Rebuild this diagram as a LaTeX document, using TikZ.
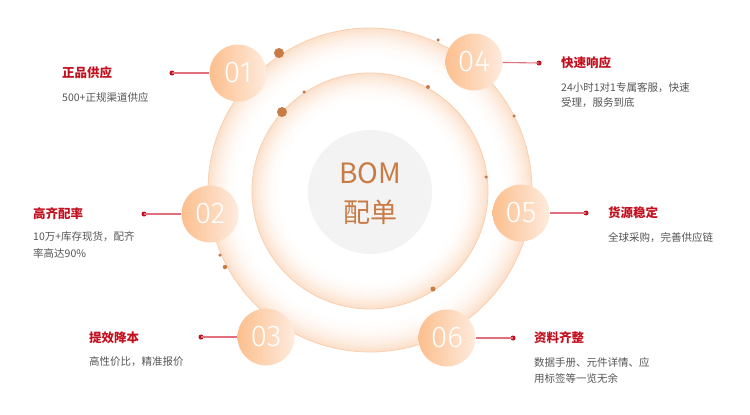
\documentclass[tikz,border=0pt]{standalone}
\usepackage{fontspec}
\setmainfont{Noto Sans CJK SC}
\newfontfamily\numfont{Fira Sans Light}
\definecolor{ringpeach}{HTML}{FCE0CB}
\definecolor{ringline}{HTML}{F8D0B0}
\definecolor{numL}{HTML}{FCBF8E}
\definecolor{numR}{HTML}{FEEBDD}
\definecolor{centergray}{HTML}{F3F3F3}
\definecolor{brown}{HTML}{C97B45}
\definecolor{titlered}{HTML}{C3101E}
\definecolor{linered}{HTML}{E0707C}
\definecolor{subgray}{HTML}{555555}
\tikzset{
  numc/.style={circle, minimum size=57pt, inner sep=0pt, left color=numL, right color=numR, text=white, font=\numfont\fontsize{30}{30}\selectfont},
  reddot/.style={circle, fill=titlered, minimum size=5pt, inner sep=0pt},
  redline/.style={linered, line width=1.1pt},
  ttl/.style={anchor=base west, inner sep=0pt, text=titlered, font=\fontsize{12.5}{14}\selectfont\bfseries},
  sub/.style={anchor=base west, inner sep=0pt, text=subgray, font=\fontsize{10.5}{12}\selectfont},
  bdot/.style={circle, fill=brown, inner sep=0pt},
}
\begin{document}
\begin{tikzpicture}[x=1pt,y=-1pt]
\useasboundingbox (0,0) rectangle (750,415);
% outer disc with fading edge
\foreach \i in {0,...,32} {
  \pgfmathsetmacro{\pc}{100*(1-\i/32)^2}
  \fill[ringpeach!\pc!white] (370,190) circle ({162-\i});
}
\draw[ringline, line width=0.8pt] (370,190) circle (162);
% inner disc with fading edge
\foreach \i in {0,...,30} {
  \pgfmathsetmacro{\pc}{100*(1-\i/30)^2}
  \fill[ringpeach!\pc!white] (370,191) circle ({118-\i});
}
\draw[ringline, line width=0.8pt] (370,191) circle (118);
\node[circle, fill=centergray, minimum size=124pt, inner sep=0pt] (center) at (370,192) {};
\node[text=brown, font=\fontsize{28}{28}\selectfont, inner sep=0pt] (bom) at (370,173) {BOM};
\node[text=brown, font=\fontsize{27}{27}\selectfont, inner sep=0pt] (pd) at (370,212) {配单};
% small brown dots
\node[bdot, minimum size=10pt] (b1) at (279,53) {};
\node[bdot, minimum size=10pt] (b2) at (282,112) {};
\node[bdot, minimum size=3.5pt] (b3) at (438,40) {};
\node[bdot, minimum size=3.5pt] (b4) at (304,92) {};
\node[bdot, minimum size=4pt] (b5) at (428,87) {};
\node[bdot, minimum size=3.5pt] (b6) at (514,116) {};
\node[bdot, minimum size=3.5pt] (b7) at (486,177) {};
\node[bdot, minimum size=3.5pt] (b8) at (220,255) {};
\node[bdot, minimum size=4.5pt] (b9) at (225,267) {};
\node[bdot, minimum size=5pt] (b10) at (433,289) {};
% number circles
\node[numc] (n1) at (238,73) {01};
\node[numc] (n2) at (210,214) {02};
\node[numc] (n3) at (266,337) {03};
\node[numc] (n4) at (474,62) {04};
\node[numc] (n5) at (521,213) {05};
\node[numc] (n6) at (447,338) {06};
% red dots and connectors
\node[reddot] (d1) at (172,73) {};
\node[reddot] (d2) at (144,214) {};
\node[reddot] (d3) at (201,337) {};
\node[reddot] (d4) at (539,63) {};
\node[reddot] (d5) at (586,213) {};
\node[reddot] (d6) at (513,338) {};
\draw[redline] (d1.center) -- (n1);
\draw[redline] (d2.center) -- (n2);
\draw[redline] (d3.center) -- (n3);
\draw[redline] (d4.center) -- (n4);
\draw[redline] (d5.center) -- (n5);
\draw[redline] (d6.center) -- (n6);
% texts
\node[ttl] (t1) at (62,77.5) {正品供应};
\node[sub] (s1) at (62,101) {500+正规渠道供应};
\node[ttl] (t2) at (33,218.5) {高齐配率};
\node[sub] (s2a) at (33,240.5) {10万+库存现货，配齐};
\node[sub] (s2b) at (33,257) {率高达90\%};
\node[ttl] (t3) at (89,342.5) {提效降本};
\node[sub] (s3) at (89,365.5) {高性价比，精准报价};
\node[ttl] (t4) at (561,67.5) {快速响应};
\node[sub] (s4a) at (561,91) {24小时1对1专属客服，快速};
\node[sub] (s4b) at (561,106.5) {受理，服务到底};
\node[ttl] (t5) at (608,217.5) {货源稳定};
\node[sub] (s5) at (608,241.5) {全球采购，完善供应链};
\node[ttl] (t6) at (534,342.5) {资料齐整};
\node[sub] (s6a) at (534,366) {数据手册、元件详情、应};
\node[sub] (s6b) at (534,382) {用标签等一览无余};
\end{tikzpicture}
\end{document}
